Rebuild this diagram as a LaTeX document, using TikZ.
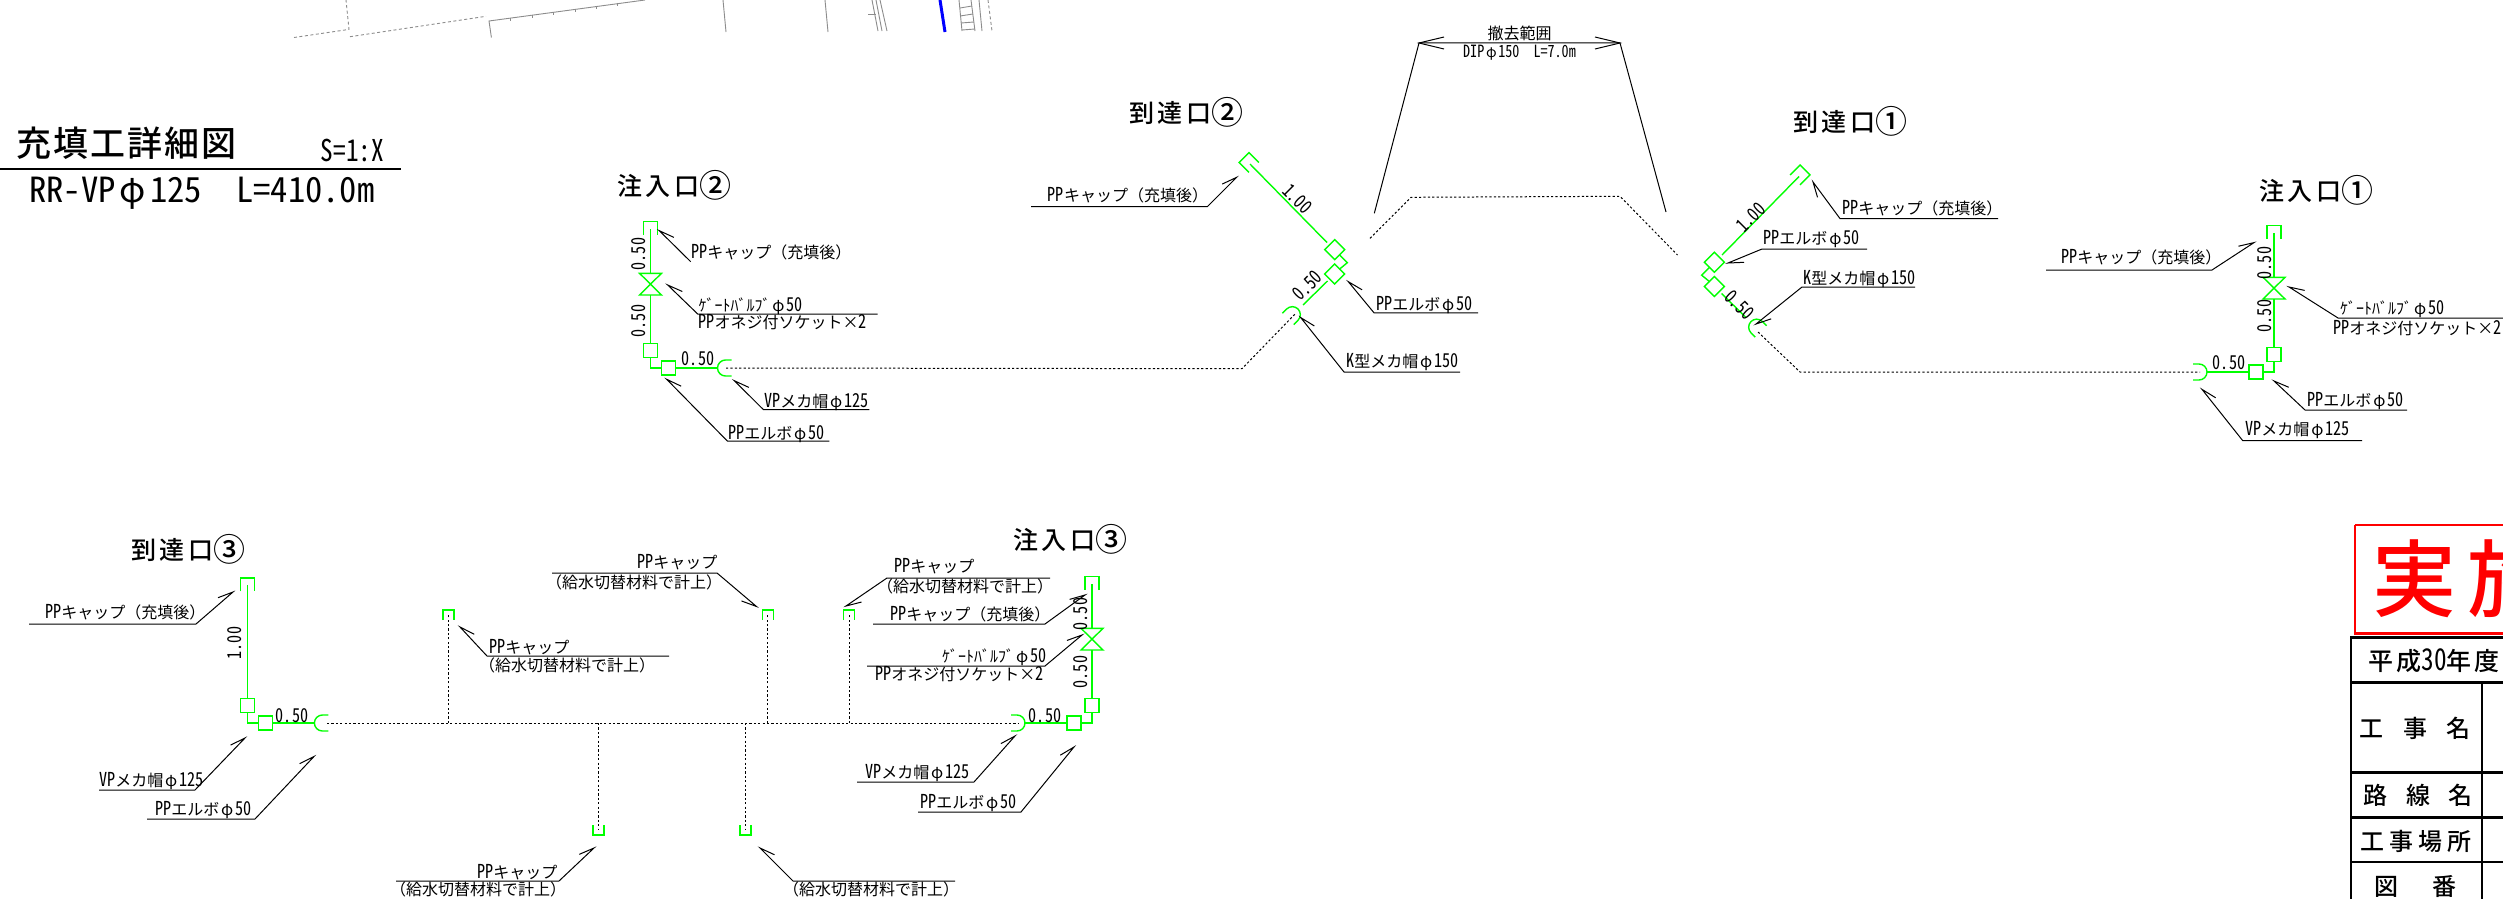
\documentclass[tikz,border=0pt]{standalone}
\usepackage{fontspec}
\setmainfont{Noto Sans CJK JP}
\newfontfamily\hw[RawFeature=+hwid]{Noto Sans CJK JP}
\newfontfamily\hwn[RawFeature=+hwid,Scale=1.2,FakeStretch=0.84]{Noto Sans CJK JP}
\newfontfamily\hvy{Noto Sans CJK JP Medium}
\usetikzlibrary{calc}
\newcommand{\hl}[1]{{\hwn #1}}
\newcommand{\fs}[1]{\fontsize{#1}{#1}\selectfont}
\newcommand{\ph}{\makebox[1em]{φ}}
\newcommand{\circd}[1]{{\fontsize{32}{32}\selectfont\raisebox{-2pt}{#1}}}
\definecolor{pipeg}{RGB}{0,255,0}
\definecolor{redmark}{RGB}{255,0,0}
\tikzset{
  gp/.style={draw=pipeg,line width=1.4pt},
  dot/.style={draw=black,line width=1pt,dash pattern=on 2.2pt off 2.2pt},
  ld/.style={draw=black,line width=1pt},
  grayln/.style={draw=black!45,line width=.9pt},
  graydash/.style={draw=black!45,line width=.9pt,dash pattern=on 3pt off 2.5pt},
  lbl/.style={inner sep=0pt,font=\fs{16},text height=13pt,text depth=3pt,anchor=west},
  dimn/.style={inner sep=0pt,font=\fs{16},text height=13pt,text depth=3pt,anchor=center},
  ttl/.style={inner sep=0pt,font=\hvy\fs{25}\addfontfeature{LetterSpace=14},anchor=center},
  tb/.style={inner sep=0pt,font=\hvy\fs{24},anchor=center},
  tbl/.style={draw=black,line width=2.5pt}
}
% leader: tip, elbow, barb rotation
\newcommand{\lead}[3]{\draw[ld] (#2)--(#1)--($(#1)!16pt!#3:(#2)$);}
% underlined leader: tip, elbow, end of rule, barb rotation
\newcommand{\leadu}[4]{\draw[ld] (#3)--(#2)--(#1)--($(#1)!16pt!#4:(#2)$);}
\newcommand{\socket}{\draw[gp] (14,-8)--(8,-8) .. controls (3.6,-8) and (0,-4.4) .. (0,0) .. controls (0,4.4) and (3.6,8) .. (8,8)--(14,8);}
\newcommand{\capb}[2]{\draw[gp] (-#1,#2)--(-#1,0)--(#1,0)--(#1,#2);}
\newcommand{\elbowset}{%
  \draw[gp] (-7,-24.7) rectangle (7,-10.7);
  \draw[gp] (0,-10.7)--(0,0)--(11,0);
  \draw[gp] (11,-7) rectangle (25,7);
  \draw[gp] (25,0)--(67,0);
  \begin{scope}[shift={(67,0)}]\socket\end{scope}}
\newcommand{\inletshape}{%
  \begin{scope}[shift={(0,-146.3)}]\capb{7}{13.3}\end{scope}
  \draw[gp] (0,-139)--(0,-94.7);
  \draw[gp] (-11,-94.7)--(11,-94.7)--(-11,-73)--(11,-73)--cycle;
  \draw[gp] (0,-73)--(0,-24.7);
  \elbowset}
\begin{document}
\begin{tikzpicture}[x=1pt,y=-1pt]
\useasboundingbox (0,0) rectangle (2503,899);
\clip (0,0) rectangle (2503,899);
\fill[white] (0,0) rectangle (2503,899);

% ---------- grey plan fragment at the top
\draw[graydash] (294,37.5)--(349,29.4)--(346,0);
\draw[graydash] (350,36.7)--(486,16.3);
\draw[grayln] (491.4,37.5)--(489,21)--(645,0);
\foreach \tx/\ty in {510/18,532/15,553/12,575/9,596/6,617/3}{\draw[grayln] (\tx,\ty)--(\tx,\ty+3);}
\draw[grayln] (723,0)--(726,32);
\draw[grayln] (825,0)--(828,32);
\draw[grayln] (872,0)--(878,31);
\draw[grayln] (876,0)--(882,31);
\draw[grayln] (880,0)--(887,31);
\draw[grayln] (868,14)--(876,14);
\draw[draw=blue,line width=3pt] (940,0)--(945,32);
\draw[grayln] (959,0)--(962,31);
\draw[grayln] (971,0)--(975,31);
\draw[grayln] (962,30)--(975,29);
\draw[grayln] (961,23)--(974,22);
\draw[grayln] (960,16)--(973,14);
\draw[grayln] (960,8)--(972,6);
\draw[grayln] (979,0)--(982,31);
\draw[graydash] (988,0)--(992,31);

% ---------- heading
\node[inner sep=0pt,anchor=west,font=\hvy\fs{35}\addfontfeature{LetterSpace=6}] (head) at (16,143) {充填工詳細図};
\node[inner sep=0pt,anchor=east,font=\fs{25}] (scale) at (384,150) {\hl{S=1:X}};
\draw[draw=black,line width=2.6pt] (0,169)--(400.7,169);
\node[inner sep=0pt,anchor=west,font=\fs{34.6}] (sub) at (29,193) {{\hw RR-VP}\ph{\hw 125}\hspace{34pt}{\hw L=410.0m}};

% ---------- inlet 2
\node[ttl] (t2) at (674,185) {注入口\circd{②}};
\begin{scope}[shift={(650.5,368)}]\inletshape\end{scope}
\draw[dot] (726,368)--(1242,368.7)--(1296,313);
\node[dimn,rotate=90] at (640.7,254) {\hl{0.50}};
\node[dimn,rotate=90] at (640.7,321) {\hl{0.50}};
\node[dimn] at (698,360) {\hl{0.50}};
\lead{659.3,230.7}{690.7,261.7}{20}
\node[lbl] at (691,253) {\hl{PP}キャップ（充填後）};
\leadu{667.7,285}{697.7,314}{877.7,314}{20}
\node[lbl] at (698.3,306) {ｹﾞｰﾄﾊﾞﾙﾌﾞ\ph\hl{50}};
\node[lbl] at (698.3,323) {\hl{PP}オネジ付ソケット×\hl{2}};
\leadu{734.3,380.7}{763.3,409.5}{869.3,409.5}{20}
\node[lbl] at (764,402) {\hl{VP}メカ帽\ph\hl{125}};
\leadu{666.7,379.3}{727.3,441}{829.3,441}{20}
\node[lbl] at (728,434) {\hl{PP}エルボ\ph\hl{50}};

% ---------- arrival 2
\node[ttl] (a2) at (1186,112) {到達口\circd{②}};
\begin{scope}[shift={(1244,157.5)},rotate=45]\capb{7}{14}\end{scope}
\draw[gp] (1250,164)--(1327,242.5);
\draw[gp] (1334.7,239.7)--(1344.7,249.7)--(1334.7,259.7)--(1324.7,249.7)--cycle;
\draw[gp] (1339.3,254.7)--(1347.3,262.7)--(1339.3,269.3);
\draw[gp] (1334.7,264)--(1344.7,274)--(1334.7,284)--(1324.7,274)--cycle;
\draw[gp] (1327.5,281)--(1303,305);
\begin{scope}[shift={(1298,309)},rotate=225]\socket\end{scope}
\leadu{1236.7,177.3}{1207.3,206.7}{1031,206.7}{-20}
\node[lbl] at (1047.7,196) {\hl{PP}キャップ（充填後）};
\node[dimn,rotate=-45] at (1296,200) {\hl{1.00}};
\node[dimn,rotate=45] at (1308.7,287) {\hl{0.50}};
\leadu{1348.3,281.7}{1374,312.8}{1478,312.8}{20}
\node[lbl] at (1376,305) {\hl{PP}エルボ\ph\hl{50}};
\leadu{1300.7,317.6}{1344,372}{1460,372}{20}
\node[lbl] at (1346,362) {\hl{K}型メカ帽\ph\hl{150}};

% ---------- removal range
\draw[dot] (1370,238.3)--(1411,197.3)--(1620,196.3)--(1677.5,255);
\draw[ld] (1374.3,213.3)--(1419,43)--(1620,43)--(1666,212);
\draw[ld] (1444,37)--(1419,43)--(1444,49);
\draw[ld] (1595,37)--(1620,43)--(1595,49);
\node[dimn] (rm1) at (1519.5,35) {撤去範囲};
\node[dimn,font=\fs{14}] (rm2) at (1519.5,53) {\hl{DIP}\ph\hl{150}\hspace{14pt}\hl{L=7.0m}};

% ---------- arrival 1
\node[ttl] (a1) at (1850,121) {到達口\circd{①}};
\begin{scope}[shift={(1805,170)},rotate=-45]\capb{7}{14}\end{scope}
\draw[gp] (1799,176.5)--(1722,255);
\draw[gp] (1714.3,252.2)--(1724.3,262.2)--(1714.3,272.2)--(1704.3,262.2)--cycle;
\draw[gp] (1709.7,267.2)--(1701.7,275.2)--(1709.7,281.8);
\draw[gp] (1714.3,276.5)--(1724.3,286.5)--(1714.3,296.5)--(1704.3,286.5)--cycle;
\draw[gp] (1721.5,293.5)--(1746,317.5);
\begin{scope}[shift={(1751,321.5)},rotate=-45]\socket\end{scope}
\draw[dot] (1758,332)--(1800,372)--(2200,372);
\node[dimn,rotate=45] at (1752,218.7) {\hl{1.00}};
\node[dimn,rotate=-45] at (1738,306) {\hl{0.50}};
\leadu{1813,182}{1840,218.6}{1998,218.6}{-20}
\node[lbl] at (1842,209) {\hl{PP}キャップ（充填後）};
\leadu{1728,263}{1762,249}{1867,249}{-20}
\node[lbl] at (1763,239.5) {\hl{PP}エルボ\ph\hl{50}};
\leadu{1756,324}{1802,287}{1915,287}{-20}
\node[lbl] at (1803,279) {\hl{K}型メカ帽\ph\hl{150}};

% ---------- inlet 1
\node[ttl] (t1) at (2316,190) {注入口\circd{①}};
\begin{scope}[shift={(2274,372)},xscale=-1]\inletshape\end{scope}
\node[dimn,rotate=90] at (2266,263) {\hl{0.50}};
\node[dimn,rotate=90] at (2266,316) {\hl{0.50}};
\node[dimn] at (2229,364) {\hl{0.50}};
\leadu{2254,242.6}{2212,270}{2046,270}{-20}
\node[lbl] at (2061,258) {\hl{PP}キャップ（充填後）};
\leadu{2289,287}{2338,318}{2503,318}{20}
\node[lbl] at (2340,309) {ｹﾞｰﾄﾊﾞﾙﾌﾞ\ph\hl{50}};
\node[lbl] at (2333,329) {\hl{PP}オネジ付ソケット×\hl{2}};
\leadu{2274,381}{2305,410}{2407,410}{20}
\node[lbl] at (2307,401) {\hl{PP}エルボ\ph\hl{50}};
\leadu{2202,389.4}{2242.6,440.5}{2362,440.5}{20}
\node[lbl] at (2245,430) {\hl{VP}メカ帽\ph\hl{125}};

% ---------- lower line
\draw[dot] (327,723)--(1018,723);
\foreach \bx in {448.5,767.8,849}{
  \draw[dot] (\bx,723)--(\bx,615);
  \begin{scope}[shift={(\bx,610)}]\capb{5.5}{10}\end{scope}}
\foreach \bx in {598.5,745.3}{
  \draw[dot] (\bx,723)--(\bx,830);
  \begin{scope}[shift={(\bx,835)},yscale=-1]\capb{5.5}{10}\end{scope}}

% ---------- arrival 3
\node[ttl] (a3) at (188,549) {到達口\circd{③}};
\begin{scope}[shift={(247.4,723)}]
  \begin{scope}[shift={(0,-145)}]\capb{7}{13.3}\end{scope}
  \draw[gp] (0,-138)--(0,-24.7);
  \elbowset
\end{scope}
\node[dimn,rotate=90] at (236,643) {\hl{1.00}};
\node[dimn] at (292,717) {\hl{0.50}};
\leadu{233,592}{196,624}{29,624}{-20}
\node[lbl] at (45,613.5) {\hl{PP}キャップ（充填後）};
\leadu{245,738}{195,790}{99,790}{-20}
\node[lbl] at (99,781) {\hl{VP}メカ帽\ph\hl{125}};
\leadu{314,756.5}{255,819}{147,819}{-20}
\node[lbl] at (155,810) {\hl{PP}エルボ\ph\hl{50}};

% ---------- inlet 3
\node[ttl] (t3) at (1070,539.5) {注入口\circd{③}};
\begin{scope}[shift={(1092,723)},xscale=-1]\inletshape\end{scope}
\node[dimn,rotate=90] at (1082,614) {\hl{0.50}};
\node[dimn,rotate=90] at (1082,672) {\hl{0.50}};
\node[dimn] at (1045,717) {\hl{0.50}};
\leadu{1085,595}{1045,624}{873,624}{-20}
\node[lbl] at (890,615) {\hl{PP}キャップ（充填後）};
\leadu{1082,635}{1045,666}{867,666}{-20}
\node[lbl] at (942,657) {ｹﾞｰﾄﾊﾞﾙﾌﾞ\ph\hl{50}};
\node[lbl] at (875,675) {\hl{PP}オネジ付ソケット×\hl{2}};
\leadu{1015,736}{974,782}{857,782}{-20}
\node[lbl] at (865,773) {\hl{VP}メカ帽\ph\hl{125}};
\leadu{1074,747}{1021,812}{918,812}{-20}
\node[lbl] at (920,803) {\hl{PP}エルボ\ph\hl{50}};

% ---------- branch cap labels
\leadu{460,627}{487,656}{669,656}{20}
\node[lbl] at (489,648) {\hl{PP}キャップ};
\node[lbl] at (479,666) {（給水切替材料で計上）};
\leadu{756.5,606.5}{717,573}{552,573}{20}
\node[lbl] at (637,563) {\hl{PP}キャップ};
\node[lbl] at (546,583) {（給水切替材料で計上）};
\leadu{846,606}{887,578}{1050,578}{-20}
\node[lbl] at (894,567) {\hl{PP}キャップ};
\node[lbl] at (877,587) {（給水切替材料で計上）};
\leadu{594,848}{559,881}{396,881}{-20}
\node[lbl] at (477,873) {\hl{PP}キャップ};
\node[lbl] at (390,890.5) {（給水切替材料で計上）};
\leadu{760,848}{793,881}{955,881}{20}
\node[lbl] at (783,890.5) {（給水切替材料で計上）};

% ---------- stamp and title block
\draw[draw=redmark,line width=2.4pt] (2355,525)--(2520,525) (2355,525)--(2355,633.3)--(2520,633.3);
\node[inner sep=0pt,anchor=west,text=redmark,font=\hvy\fs{84}\addfontfeature{LetterSpace=14}] (stamp) at (2372,579) {実施};
\draw[tbl] (2520,637.3)--(2351,637.3)--(2351,905);
\draw[tbl] (2351,682.3)--(2520,682.3);
\draw[tbl] (2351,772.3)--(2520,772.3);
\draw[tbl] (2351,817.3)--(2520,817.3);
\draw[tbl] (2351,862)--(2520,862);
\draw[tbl] (2482,682.3)--(2482,905);
\node[inner sep=0pt,anchor=west,font=\hvy\fs{25}\addfontfeature{LetterSpace=13}] (yr) at (2368,660.7) {平成\hl{30}年度};
\node[tb] (c1) at (2415,728.3) {工\hspace{19.3pt}事\hspace{19.3pt}名};
\node[tb] (c2) at (2418,795.7) {路\hspace{18.5pt}線\hspace{18.5pt}名};
\node[tb] (c3) at (2416,841) {工\hspace{5pt}事\hspace{5pt}場\hspace{5pt}所};
\node[tb] (c4) at (2415.5,887) {図\hspace{33.6pt}番};
\end{tikzpicture}
\end{document}
